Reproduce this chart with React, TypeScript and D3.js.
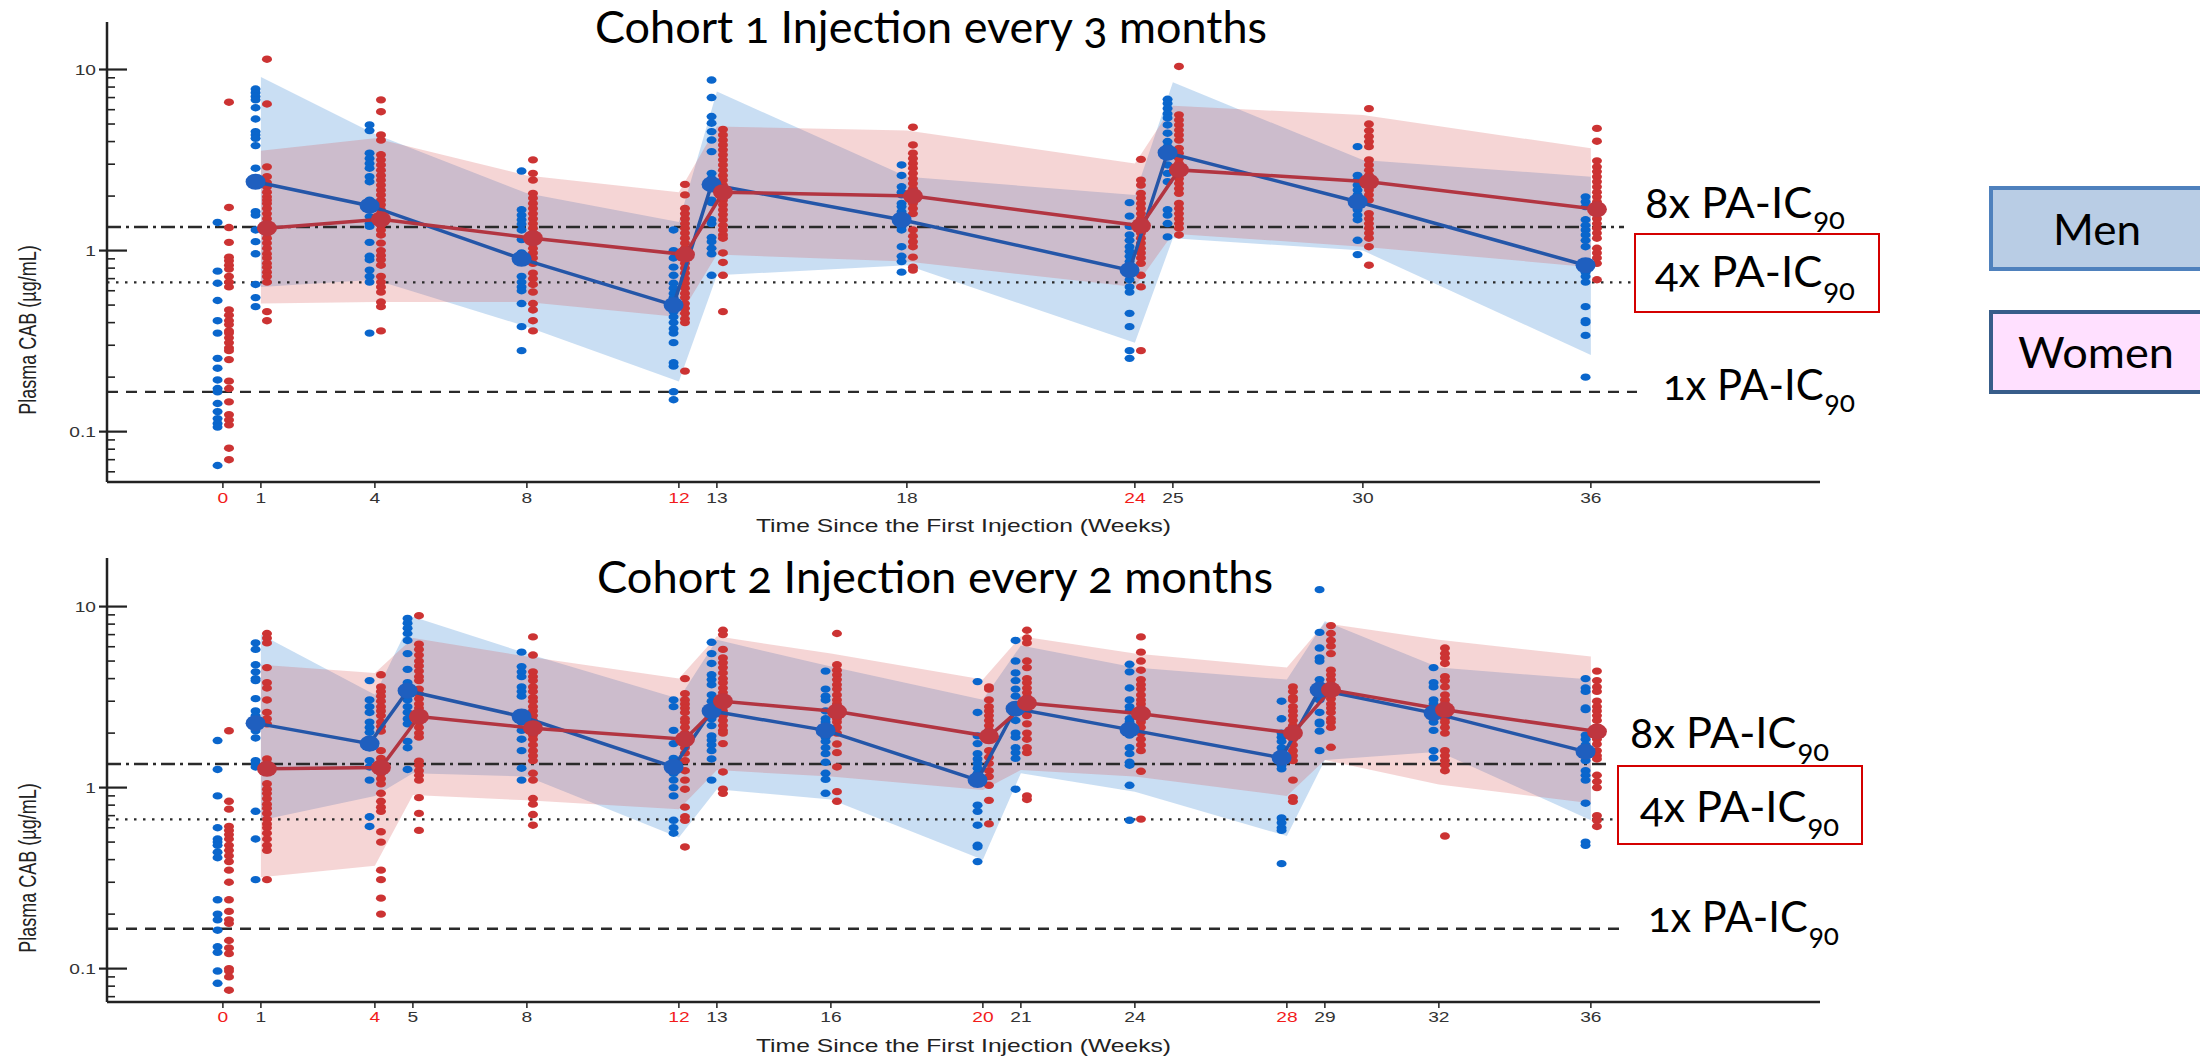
import React from 'react';
import * as d3 from 'd3';

// ---------------- DATA ----------------
// Cohort 1 (injection every 3 months)
const C1_WEEKS = [0, 1, 4, 8, 12, 13, 18, 24, 25, 30, 36];
const C1_RED_TICKS = [0, 12, 24];
const C1_MEN_DOTS = [
  [1.43, 0.77, 0.66, 0.53, 0.41, 0.35, 0.254, 0.224, 0.193, 0.173, 0.166, 0.143, 0.129, 0.118, 0.111, 0.106, 0.065],
  [7.8, 7.45, 7.1, 6.8, 6.15, 5.33, 4.54, 4.35, 4.17, 3.8, 2.85, 1.64, 1.57, 1.3, 1.12, 0.96, 0.65, 0.55, 0.49],
  [4.94, 4.6, 3.45, 3.23, 3.03, 2.85, 2.56, 2.4, 1.9, 1.71, 1.54, 1.41, 1.36, 1.11, 0.93, 0.89, 0.78, 0.72, 0.67, 0.35],
  [2.75, 1.68, 1.57, 1.48, 1.4, 1.3, 1.15, 0.97, 0.72, 0.67, 0.63, 0.6, 0.51, 0.38, 0.28],
  [1.3, 1.0, 0.91, 0.81, 0.73, 0.66, 0.62, 0.58, 0.55, 0.46, 0.43, 0.4, 0.37, 0.35, 0.31, 0.24, 0.23, 0.166, 0.15],
  [8.75, 7.0, 5.5, 5.05, 4.54, 4.08, 3.52, 2.67, 2.5, 1.9, 1.84, 1.48, 1.41, 1.18, 1.12, 1.03, 0.96, 0.73],
  [2.97, 2.6, 2.25, 2.1, 2.03, 1.82, 1.75, 1.64, 1.54, 1.48, 1.41, 1.36, 1.3, 1.05, 0.93, 0.87, 0.76],
  [1.84, 1.55, 1.36, 1.22, 1.14, 1.05, 0.99, 0.93, 0.87, 0.81, 0.75, 0.69, 0.63, 0.59, 0.45, 0.38, 0.28, 0.254],
  [6.85, 6.5, 6.1, 5.7, 5.4, 4.94, 4.45, 4.0, 3.75, 3.3, 2.97, 2.67, 2.4, 1.68, 1.57, 1.41, 1.19],
  [3.75, 2.6, 2.45, 2.3, 2.16, 2.03, 1.9, 1.79, 1.68, 1.57, 1.48, 1.14, 0.95],
  [1.98, 1.86, 1.75, 1.48, 1.38, 1.3, 1.22, 1.14, 1.05, 0.76, 0.72, 0.67, 0.49, 0.41, 0.4, 0.34, 0.2],
];
const C1_WOMEN_DOTS = [
  [6.6, 1.73, 1.34, 1.11, 0.92, 0.88, 0.83, 0.79, 0.72, 0.67, 0.63, 0.47, 0.44, 0.41, 0.39, 0.36, 0.35, 0.33, 0.31, 0.29, 0.28, 0.25, 0.19, 0.173, 0.146, 0.124, 0.116, 0.109, 0.081, 0.07],
  [11.4, 6.45, 2.9, 2.56, 2.37, 2.25, 2.1, 1.98, 1.9, 1.82, 1.71, 1.6, 1.5, 1.41, 1.33, 1.25, 1.17, 1.1, 1.03, 0.96, 0.91, 0.85, 0.81, 0.76, 0.72, 0.67, 0.46, 0.41],
  [6.8, 5.85, 4.35, 4.08, 3.38, 3.17, 2.97, 2.78, 2.6, 2.45, 2.3, 2.16, 2.03, 1.9, 1.79, 1.68, 1.58, 1.48, 1.38, 1.3, 1.22, 1.1, 1.0, 0.94, 0.89, 0.83, 0.72, 0.67, 0.63, 0.59, 0.52, 0.49, 0.36],
  [3.17, 2.67, 2.45, 2.07, 1.95, 1.82, 1.71, 1.6, 1.5, 1.41, 1.33, 1.25, 1.17, 1.1, 1.03, 0.97, 0.91, 0.85, 0.75, 0.7, 0.65, 0.59, 0.51, 0.47, 0.41, 0.36],
  [2.32, 2.03, 1.71, 1.6, 1.5, 1.41, 1.33, 1.25, 1.17, 1.1, 1.03, 0.97, 0.91, 0.85, 0.8, 0.75, 0.7, 0.66, 0.62, 0.58, 0.55, 0.51, 0.48, 0.45, 0.42, 0.4, 0.216],
  [4.67, 4.35, 4.08, 3.83, 3.6, 3.38, 3.17, 2.97, 2.78, 2.6, 2.45, 2.3, 2.16, 2.03, 1.9, 1.79, 1.68, 1.58, 1.48, 1.38, 1.3, 1.22, 1.17, 0.97, 0.86, 0.73, 0.46],
  [4.8, 3.83, 3.45, 3.23, 3.03, 2.85, 2.67, 2.5, 2.35, 2.2, 2.07, 1.95, 1.82, 1.71, 1.6, 1.3, 1.2, 1.12, 1.05, 0.92, 0.81, 0.78],
  [3.19, 2.45, 2.3, 2.07, 1.95, 1.82, 1.71, 1.6, 1.5, 1.41, 1.33, 1.25, 1.17, 1.1, 1.03, 0.97, 0.91, 0.85, 0.73, 0.63, 0.28],
  [10.4, 5.62, 5.27, 4.94, 4.63, 4.35, 4.08, 3.67, 3.45, 3.23, 3.03, 2.85, 2.67, 2.5, 2.35, 2.2, 2.07, 1.82, 1.71, 1.6, 1.5, 1.41, 1.33, 1.22],
  [6.08, 5.0, 4.6, 4.27, 4.0, 3.75, 3.17, 2.97, 2.78, 2.6, 2.45, 2.3, 2.16, 2.03, 1.9, 1.6, 1.5, 1.41, 1.33, 1.25, 1.17, 1.05, 0.83],
  [4.73, 4.02, 3.13, 2.9, 2.73, 2.56, 2.4, 2.25, 2.1, 1.98, 1.86, 1.75, 1.6, 1.5, 1.41, 1.33, 1.25, 1.17, 1.03, 0.97, 0.91, 0.85, 0.69],
];
const C1_BAND_WEEKS = [1, 4, 8, 12, 13, 18, 24, 25, 30, 36];
const C1_MEN_MEDIAN = [2.4, 1.77, 0.9, 0.5, 2.32, 1.48, 0.78, 3.47, 1.86, 0.83];
const C1_WOMEN_MEDIAN = [1.33, 1.49, 1.17, 0.95, 2.1, 2.0, 1.37, 2.79, 2.4, 1.69];
const C1_MEN_UPPER = [9.1, 4.4, 2.07, 1.44, 7.55, 2.56, 2.03, 8.5, 3.16, 2.56];
const C1_MEN_LOWER = [0.63, 0.69, 0.38, 0.189, 0.73, 0.83, 0.31, 1.17, 1.0, 0.265];
const C1_WOMEN_UPPER = [3.56, 4.17, 2.6, 2.1, 4.84, 4.6, 3.03, 6.3, 5.6, 3.67];
const C1_WOMEN_LOWER = [0.51, 0.52, 0.52, 0.43, 0.95, 0.87, 0.63, 1.24, 1.05, 0.81];

// Cohort 2 (injection every 2 months)
const C2_WEEKS = [0, 1, 4, 5, 8, 12, 13, 16, 20, 21, 24, 28, 29, 32, 36];
const C2_RED_TICKS = [0, 4, 12, 20, 28];
const C2_MEN_DOTS = [
  [1.82, 1.26, 0.9, 0.6, 0.52, 0.5, 0.48, 0.44, 0.41, 0.24, 0.2, 0.186, 0.163, 0.132, 0.123, 0.097, 0.083],
  [6.3, 5.8, 4.77, 4.36, 4.0, 3.9, 3.1, 2.65, 2.5, 2.37, 2.2, 2.06, 1.88, 1.41, 1.36, 1.3, 0.74, 0.52, 0.31],
  [3.9, 3.05, 2.8, 2.6, 2.3, 2.15, 2.02, 1.66, 1.41, 1.3, 1.1, 0.69, 0.61],
  [8.6, 8.1, 7.6, 7.1, 6.5, 5.5, 4.5, 3.8, 3.05, 2.8, 2.6, 2.4, 2.25, 1.8, 1.66, 1.26],
  [5.6, 4.66, 4.36, 4.1, 3.6, 3.4, 3.2, 2.3, 2.07, 1.85, 1.6, 1.28, 1.1],
  [3.05, 2.8, 2.07, 1.75, 1.45, 1.38, 1.2, 1.1, 1.0, 0.9, 0.66, 0.6, 0.56],
  [6.35, 5.5, 4.85, 4.2, 3.95, 3.7, 3.25, 3.0, 2.4, 2.2, 1.93, 1.83, 1.72, 1.6, 1.44, 1.1],
  [4.4, 3.5, 3.2, 3.05, 2.65, 2.4, 2.3, 2.15, 1.9, 1.8, 1.66, 1.54, 1.38, 1.2, 1.11, 0.93],
  [3.85, 2.6, 1.93, 1.75, 1.54, 1.44, 1.36, 1.28, 1.2, 0.8, 0.74, 0.62, 0.48, 0.47, 0.39],
  [6.5, 5.0, 4.3, 3.9, 3.5, 3.2, 2.6, 2.35, 2.0, 1.9, 1.66, 1.56, 1.45, 0.98],
  [4.8, 4.36, 3.55, 3.05, 2.8, 2.65, 2.4, 2.3, 1.95, 1.66, 1.54, 1.38, 1.33, 1.03, 0.66],
  [3.0, 2.4, 2.0, 1.9, 1.8, 1.66, 1.56, 1.41, 1.33, 1.27, 0.68, 0.64, 0.6, 0.58, 0.38],
  [12.4, 7.2, 5.9, 5.2, 5.0, 3.95, 3.7, 3.05, 2.6, 2.3, 2.25, 2.05, 1.6],
  [4.6, 3.8, 3.6, 3.05, 2.9, 2.5, 2.3, 2.07, 1.6, 1.46],
  [4.0, 3.55, 3.4, 2.75, 2.7, 1.95, 1.85, 1.72, 1.5, 1.41, 1.24, 1.17, 1.1, 0.82, 0.5, 0.48],
];
const C2_WOMEN_DOTS = [
  [2.06, 0.84, 0.76, 0.61, 0.58, 0.55, 0.52, 0.48, 0.45, 0.42, 0.39, 0.35, 0.3, 0.24, 0.207, 0.186, 0.178, 0.143, 0.13, 0.121, 0.1, 0.097, 0.09, 0.076],
  [7.1, 6.7, 6.3, 4.6, 3.8, 3.55, 3.05, 2.6, 2.4, 2.25, 1.44, 1.36, 1.24, 1.05, 0.98, 0.93, 0.87, 0.81, 0.77, 0.72, 0.67, 0.63, 0.6, 0.56, 0.52, 0.48, 0.45, 0.31],
  [4.2, 3.6, 3.4, 3.2, 3.0, 2.8, 2.65, 2.5, 2.3, 2.18, 2.05, 1.6, 1.45, 1.38, 1.2, 1.12, 1.05, 0.93, 0.84, 0.78, 0.74, 0.57, 0.5, 0.35, 0.31, 0.245, 0.2],
  [8.9, 6.2, 5.8, 5.4, 5.0, 4.7, 4.4, 4.1, 3.9, 3.5, 3.3, 3.1, 2.9, 2.75, 2.6, 2.4, 2.3, 2.15, 2.0, 1.9, 1.4, 1.33, 1.24, 1.17, 1.1, 0.88, 0.72, 0.58],
  [6.8, 5.4, 4.36, 4.1, 3.9, 3.6, 3.4, 3.15, 3.0, 2.8, 2.65, 2.5, 2.35, 2.07, 1.95, 1.85, 1.72, 1.6, 1.5, 1.41, 1.2, 1.1, 0.87, 0.81, 0.71, 0.62],
  [4.0, 3.3, 3.05, 2.9, 2.75, 2.6, 2.4, 2.3, 2.15, 2.0, 1.9, 1.8, 1.66, 1.55, 1.41, 1.24, 1.1, 0.98, 0.78, 0.69, 0.66, 0.47],
  [7.4, 7.0, 5.8, 5.2, 4.9, 4.6, 4.3, 4.0, 3.8, 3.55, 3.35, 3.15, 2.8, 2.65, 2.5, 2.35, 2.2, 2.07, 2.0, 1.75, 1.22, 0.98, 0.93],
  [7.1, 4.77, 4.45, 4.2, 3.95, 3.7, 3.5, 3.25, 3.05, 2.9, 2.6, 2.4, 2.3, 2.15, 2.0, 1.74, 1.56, 1.3, 0.95, 0.84],
  [3.6, 3.5, 3.05, 2.8, 2.65, 2.5, 2.35, 2.2, 2.07, 1.93, 1.85, 1.6, 1.47, 1.36, 1.24, 1.15, 1.03, 0.85, 0.63],
  [7.4, 6.7, 6.3, 5.0, 4.6, 4.0, 3.8, 3.55, 3.35, 3.15, 2.8, 2.65, 2.5, 2.25, 2.0, 1.85, 1.66, 1.56, 0.9, 0.86],
  [6.8, 5.6, 5.0, 4.45, 3.95, 3.7, 3.5, 3.25, 3.05, 2.9, 2.75, 2.4, 2.3, 2.15, 2.0, 1.85, 1.72, 1.6, 1.23, 0.67],
  [3.6, 3.4, 3.15, 3.05, 2.8, 2.65, 2.5, 2.35, 2.2, 1.93, 1.85, 1.72, 1.6, 1.5, 1.41, 1.1, 0.88, 0.84],
  [7.85, 7.1, 6.5, 6.05, 5.5, 4.45, 4.2, 3.95, 3.7, 3.25, 3.1, 2.9, 2.75, 2.6, 2.4, 2.3, 2.15, 1.67],
  [5.9, 5.5, 5.2, 4.85, 4.1, 3.9, 3.6, 3.25, 3.05, 2.9, 2.6, 2.4, 2.3, 2.15, 2.0, 1.6, 1.5, 1.41, 1.33, 1.24, 0.54],
  [4.4, 3.9, 3.6, 3.4, 3.0, 2.8, 2.65, 2.5, 2.35, 1.95, 1.85, 1.74, 1.6, 1.5, 1.44, 1.17, 1.08, 1.0, 0.7, 0.66, 0.61],
];
const C2_BAND_WEEKS = [1, 4, 5, 8, 12, 13, 16, 20, 21, 24, 28, 29, 32, 36];
const C2_MEN_MEDIAN = [2.27, 1.75, 3.43, 2.47, 1.3, 2.65, 2.07, 1.1, 2.73, 2.09, 1.46, 3.47, 2.58, 1.58];
const C2_WOMEN_MEDIAN = [1.27, 1.29, 2.47, 2.13, 1.85, 3.0, 2.63, 1.92, 2.93, 2.56, 2.0, 3.47, 2.69, 2.04];
const C2_MEN_UPPER = [7.0, 3.26, 8.8, 5.5, 3.1, 6.55, 4.66, 3.06, 6.1, 4.6, 3.95, 8.3, 4.6, 3.95];
const C2_MEN_LOWER = [0.66, 0.9, 1.2, 1.15, 0.53, 0.98, 0.86, 0.4, 1.2, 0.95, 0.54, 1.42, 1.58, 0.66];
const C2_WOMEN_UPPER = [4.77, 4.3, 6.7, 5.3, 4.0, 6.85, 5.5, 3.95, 6.85, 5.5, 4.6, 8.1, 6.55, 5.3];
const C2_WOMEN_LOWER = [0.32, 0.37, 0.91, 0.85, 0.76, 1.25, 1.15, 0.97, 1.25, 1.15, 0.9, 1.42, 1.04, 0.82];

// Thresholds (µg/mL): 8x, 4x, 1x PA-IC90
const THRESHOLD_VALUES = [1.35, 0.667, 0.166];
const THRESHOLD_LABELS = ['8x PA-IC', '4x PA-IC', '1x PA-IC'];
const THRESHOLD_SUB = '90';
const Y_TICK_MAJOR = [0.1, 1, 10];
const Y_TICK_LABELS = ['0.1', '1', '10'];
const LEGEND_LABELS = ['Men', 'Women'];
const TITLES = ['Cohort 1 Injection every 3 months', 'Cohort 2 Injection every 2 months'];
const X_TITLE = 'Time Since the First Injection (Weeks)';
const Y_TITLE = 'Plasma CAB (\u00b5g/mL)';

// ---------------- LAYOUT / STYLE ----------------
const W = 2200;
const H = 1058;
const X_DOMAIN: [number, number] = [-3.05, 42.03];
const AX_LEFT = 107;
const AX_RIGHT = 1820;
const MEN_OFF = -0.14;
const WOMEN_OFF = 0.16;
const STRETCH = 1.37;
const HELV = "'Liberation Sans', Arial, Helvetica, sans-serif";
const CAL = "Lato, 'Open Sans', 'Noto Sans', sans-serif";

const COL = {
  menDot: '#0a66cc',
  womenDot: '#cc3333',
  menLine: '#2456a8',
  womenLine: '#b23541',
  menMed: '#1f5fbf',
  womenMed: '#bf363f',
  menBand: 'rgba(100,160,220,0.35)',
  womenBand: 'rgba(212,80,80,0.24)',
  axis: '#222',
  tick: '#333',
  redTick: '#f21b1b',
  ref: '#2a2a2a',
};

const REF_DASH = ['14,5,3,5', '2.5,6.5', '11,8'];

const PANEL_LAYOUT = [
  {
    yDomain: [0.0527, 18.3] as [number, number], yTop: 22, yBottom: 482,
    titleX: 595, titleW: 672, titleY: 43,
    tickLabelY: 503, xTitleY: 532, yLabelY: 330,
    refEnd: [1624, 1632, 1637],
    lab: [
      { x: 1645, y: 218, w: 200, dy: 11 },
      { x: 1655, y: 287, w: 200, dy: 13 },
      { x: 1663, y: 400, w: 192, dy: 12 },
    ],
    box: { x: 1635, y: 234, w: 244, h: 78 },
  },
  {
    yDomain: [0.0654, 18.55] as [number, number], yTop: 558, yBottom: 1002,
    titleX: 597, titleW: 676, titleY: 593,
    tickLabelY: 1022, xTitleY: 1052, yLabelY: 868,
    refEnd: [1607, 1619, 1627],
    lab: [
      { x: 1630, y: 748, w: 199, dy: 13 },
      { x: 1640, y: 822, w: 199, dy: 14 },
      { x: 1648, y: 932, w: 191, dy: 13 },
    ],
    box: { x: 1618, y: 766, w: 244, h: 78 },
  },
];

const PANEL_DATA = [
  {
    weeks: C1_WEEKS, redTicks: C1_RED_TICKS, menDots: C1_MEN_DOTS, womenDots: C1_WOMEN_DOTS,
    bandWeeks: C1_BAND_WEEKS, menMed: C1_MEN_MEDIAN, womenMed: C1_WOMEN_MEDIAN,
    menUp: C1_MEN_UPPER, menLo: C1_MEN_LOWER, womenUp: C1_WOMEN_UPPER, womenLo: C1_WOMEN_LOWER,
  },
  {
    weeks: C2_WEEKS, redTicks: C2_RED_TICKS, menDots: C2_MEN_DOTS, womenDots: C2_WOMEN_DOTS,
    bandWeeks: C2_BAND_WEEKS, menMed: C2_MEN_MEDIAN, womenMed: C2_WOMEN_MEDIAN,
    menUp: C2_MEN_UPPER, menLo: C2_MEN_LOWER, womenUp: C2_WOMEN_UPPER, womenLo: C2_WOMEN_LOWER,
  },
];

function SText(props: { x: number; y: number; anchor?: string; size?: number; fill?: string; children: any }) {
  const { x, y, anchor = 'middle', size = 14, fill = COL.tick, children } = props;
  return (
    <text transform={`translate(${x},${y}) scale(${STRETCH},1)`} textAnchor={anchor as any}
      fontSize={size} fill={fill} fontFamily={HELV}>{children}</text>
  );
}

function Panel({ idx }: { idx: number }) {
  const L = PANEL_LAYOUT[idx];
  const D = PANEL_DATA[idx];
  const x = d3.scaleLinear().domain(X_DOMAIN).range([AX_LEFT, AX_RIGHT]);
  const y = d3.scaleLog().domain(L.yDomain).range([L.yBottom, L.yTop]);

  const band = (up: number[], lo: number[]) =>
    d3.area<number>()
      .x((w) => x(w))
      .y0((_, i) => y(lo[i]))
      .y1((_, i) => y(up[i]))(D.bandWeeks) || '';
  const medLine = (med: number[], off: number) =>
    d3.line<number>().x((w) => x(w + off)).y((_, i) => y(med[i]))(D.bandWeeks) || '';

  const minor: number[] = [];
  for (let e = -2; e <= 1; e++) {
    for (let m = 2; m <= 9; m++) {
      const v = m * Math.pow(10, e);
      if (v >= L.yDomain[0] && v <= L.yDomain[1]) minor.push(v);
    }
  }

  return (
    <g>
      <path d={band(D.menUp, D.menLo)} fill={COL.menBand} />
      <path d={band(D.womenUp, D.womenLo)} fill={COL.womenBand} />

      {THRESHOLD_VALUES.map((v, i) => (
        <line key={'ref' + i} x1={AX_LEFT} x2={L.refEnd[i]} y1={y(v)} y2={y(v)}
          stroke={COL.ref} strokeWidth={2.3} strokeDasharray={REF_DASH[i]} />
      ))}

      {D.weeks.map((w, wi) => (
        <g key={'md' + wi}>
          {D.menDots[wi].map((v, k) => (
            <ellipse key={k} cx={x(w + MEN_OFF)} cy={y(v)} rx={5} ry={3.7} fill={COL.menDot} />
          ))}
        </g>
      ))}
      {D.weeks.map((w, wi) => (
        <g key={'wd' + wi}>
          {D.womenDots[wi].map((v, k) => (
            <ellipse key={k} cx={x(w + WOMEN_OFF)} cy={y(v)} rx={5} ry={3.7} fill={COL.womenDot} />
          ))}
        </g>
      ))}

      <path d={medLine(D.menMed, MEN_OFF)} fill="none" stroke={COL.menLine} strokeWidth={3.5} />
      <path d={medLine(D.womenMed, WOMEN_OFF)} fill="none" stroke={COL.womenLine} strokeWidth={3.5} />
      {D.bandWeeks.map((w, i) => (
        <ellipse key={'mm' + i} cx={x(w + MEN_OFF)} cy={y(D.menMed[i])} rx={10} ry={8} fill={COL.menMed} />
      ))}
      {D.bandWeeks.map((w, i) => (
        <ellipse key={'wm' + i} cx={x(w + WOMEN_OFF)} cy={y(D.womenMed[i])} rx={10} ry={8} fill={COL.womenMed} />
      ))}

      <line x1={AX_LEFT} x2={AX_LEFT} y1={L.yTop} y2={L.yBottom} stroke={COL.axis} strokeWidth={2.5} />
      <line x1={AX_LEFT} x2={AX_RIGHT} y1={L.yBottom} y2={L.yBottom} stroke={COL.axis} strokeWidth={2.5} />
      {Y_TICK_MAJOR.map((v, i) => (
        <g key={'yt' + i}>
          <line x1={AX_LEFT - 8} x2={AX_LEFT + 20} y1={y(v)} y2={y(v)} stroke={COL.axis} strokeWidth={2.2} />
          <SText x={AX_LEFT - 11} y={y(v) + 5} anchor="end" size={14}>{Y_TICK_LABELS[i]}</SText>
        </g>
      ))}
      {minor.map((v, i) => (
        <line key={'mt' + i} x1={AX_LEFT} x2={AX_LEFT + 8} y1={y(v)} y2={y(v)} stroke={COL.axis} strokeWidth={1.6} />
      ))}
      {D.weeks.map((w, i) => (
        <g key={'xt' + i}>
          <line x1={x(w)} x2={x(w)} y1={L.yBottom} y2={L.yBottom + 6} stroke={COL.axis} strokeWidth={1.5} />
          <SText x={x(w)} y={L.tickLabelY} size={14}
            fill={D.redTicks.includes(w) ? COL.redTick : COL.tick}>{String(w)}</SText>
        </g>
      ))}
      <SText x={(AX_LEFT + AX_RIGHT) / 2} y={L.xTitleY} size={18} fill="#222">{X_TITLE}</SText>
      <text transform={`translate(27,${L.yLabelY}) scale(${STRETCH},1) rotate(-90)`} y={6.5}
        textAnchor="middle" fontSize={18} fill="#222" fontFamily={HELV}>{Y_TITLE}</text>

      <text x={L.titleX} y={L.titleY} fontSize={44} fontFamily={CAL} fill="#000"
        textLength={L.titleW} lengthAdjust="spacingAndGlyphs"
        style={{ fontVariantNumeric: 'oldstyle-nums' }}>{TITLES[idx]}</text>

      <rect x={L.box.x} y={L.box.y} width={L.box.w} height={L.box.h} fill="none" stroke="#d40000" strokeWidth={2} />
      {THRESHOLD_LABELS.map((s, i) => (
        <text key={'tl' + i} x={L.lab[i].x} y={L.lab[i].y} fontSize={43} fontFamily={CAL} fill="#000"
          textLength={L.lab[i].w} lengthAdjust="spacingAndGlyphs"
          style={{ fontVariantNumeric: 'oldstyle-nums' }}>
          {s}
          <tspan dx={1} dy={L.lab[i].dy} fontSize={29}>{THRESHOLD_SUB}</tspan>
        </text>
      ))}
    </g>
  );
}

export default function App() {
  return (
    <svg width={W} height={H} viewBox={`0 0 ${W} ${H}`}
      style={{ position: 'absolute', left: 0, top: 0, background: '#fff' }}>
      <rect x={0} y={0} width={W} height={H} fill="#fff" />
      <Panel idx={0} />
      <Panel idx={1} />
      <rect x={1991} y={188} width={240} height={81} fill="#b9cde5" stroke="#4f81bd" strokeWidth={4} />
      <text x={2053} y={245} fontSize={43} fontFamily={CAL} fill="#000" textLength={88} lengthAdjust="spacingAndGlyphs">{LEGEND_LABELS[0]}</text>
      <rect x={1991} y={312} width={240} height={80} fill="#ffe0ff" stroke="#385d8a" strokeWidth={4} />
      <text x={2018} y={368} fontSize={43} fontFamily={CAL} fill="#000" textLength={156} lengthAdjust="spacingAndGlyphs">{LEGEND_LABELS[1]}</text>
    </svg>
  );
}
